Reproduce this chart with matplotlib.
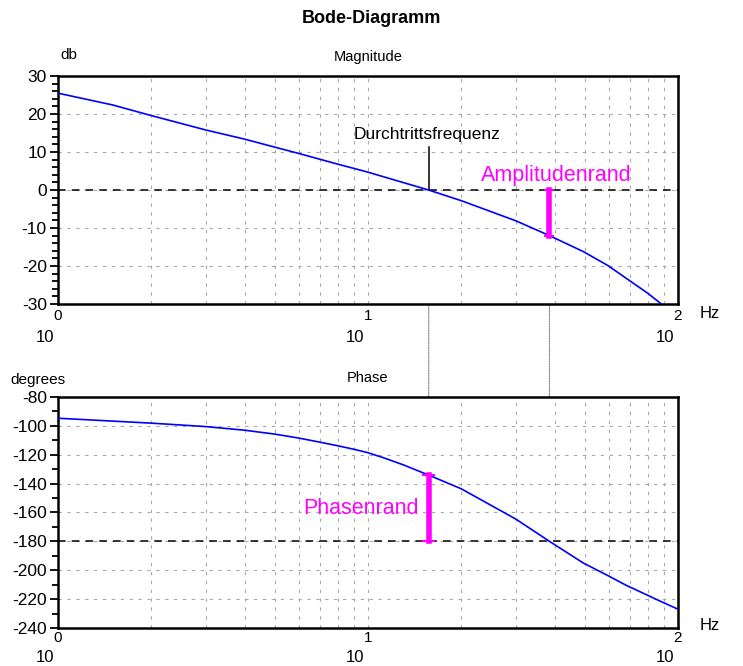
import matplotlib
matplotlib.use("Agg")
import matplotlib.pyplot as plt
from matplotlib.patches import ConnectionPatch
from matplotlib.ticker import MultipleLocator, FixedLocator, NullFormatter

plt.rcParams['font.family'] = ['Liberation Sans', 'DejaVu Sans']
plt.rcParams['axes.unicode_minus'] = False

# values
mag_freq = [1, 1.5, 2, 3, 4, 5, 6, 7, 8, 9, 10, 15.7, 20, 30, 38.5, 49.5, 59.5, 68, 80, 88.4]
mag_db = [25.5, 22.4, 19.6, 15.8, 13.4, 11.3, 9.6, 8.1, 6.8, 5.7, 4.7, 0.0, -2.8, -8.1, -12.0, -16.2,
          -19.9, -23.2, -27.2, -30.0]

phase_freq = [1, 2, 3, 4, 5, 6, 7, 8, 9, 10, 11.3, 13, 15.7, 20, 30, 38.5, 49.5, 59.5, 68, 88.4, 100]
phase_deg = [-94.7, -98.1, -100.5, -103, -105.7, -108.5, -111.3, -113.8, -116.2, -118.6, -122.3,
             -127.0, -134.1, -143.6, -164.6, -180, -195.0, -203.8, -210.4, -221.8, -227]

crossover_freq = 15.7
crossover_phase = -134.1
phase_cross_freq = 38.5
phase_cross_mag = -12.0

decade_labels = ["0", "1", "2"]
decades = [1, 10, 100]

fig = plt.figure(figsize=(7.43, 6.66), dpi=100)
ax1 = fig.add_axes([0.078, 0.5435, 0.8345, 0.3423])
ax2 = fig.add_axes([0.078, 0.0571, 0.8345, 0.3468])

fig.text(0.5, 0.972, "Bode-Diagramm", ha='center', va='center', fontsize=13, fontweight='bold')

minor_x = [m * d for d in [1, 10] for m in range(2, 10)]


def style_axis(ax, ymin, ymax, major, minor, title, exp_off, ten_off, hz_off):
    ax.set_xscale('log')
    ax.set_xlim(1, 100)
    ax.set_ylim(ymin, ymax)
    ax.xaxis.set_major_locator(FixedLocator(decades))
    ax.xaxis.set_minor_locator(FixedLocator(minor_x))
    ax.xaxis.set_major_formatter(NullFormatter())
    ax.xaxis.set_minor_formatter(NullFormatter())
    ax.tick_params(axis='x', which='both', length=0)
    ax.yaxis.set_major_locator(MultipleLocator(major))
    ax.yaxis.set_minor_locator(MultipleLocator(minor))
    ax.tick_params(axis='y', which='major', length=6, width=1.3, labelsize=12.5, pad=2)
    ax.tick_params(axis='y', which='minor', length=4, width=1.3)
    for s in ax.spines.values():
        s.set_linewidth(1.8)
    for f in minor_x + [10]:
        ax.axvline(f, color='#a8a8a8', lw=0.8, ls=(0, (3, 5)), zorder=0)
    for v in range(ymin + major, ymax, major):
        ax.axhline(v, color='#a8a8a8', lw=0.8, ls=(0, (3, 5)), zorder=0)
    ax.set_title(title, fontsize=10.5, pad=11)
    ax.annotate("Hz", (1, 0), xycoords='axes fraction', xytext=(22, hz_off),
                textcoords='offset pixels', ha='left', va='center', fontsize=12)
    for d, lab in zip(decades, decade_labels):
        ax.annotate(lab, (d, 0), xycoords=('data', 'axes fraction'), xytext=(0, exp_off),
                    textcoords='offset pixels', ha='center', va='center', fontsize=11)
        ax.annotate("10", (d, 0), xycoords=('data', 'axes fraction'), xytext=(-13, ten_off),
                    textcoords='offset pixels', ha='center', va='center', fontsize=12)


style_axis(ax1, -30, 30, 10, 2, "Magnitude", -12, -33, -9)
style_axis(ax2, -240, -80, 20, 10, "Phase", -10, -30, 2)
fig.text(60 / 743, 1 - 55 / 666, "db", ha='left', va='center', fontsize=11)
fig.text(10 / 743, 1 - 380 / 666, "degrees", ha='left', va='center', fontsize=11)

# magnitude plot
ax1.axhline(0, color='black', lw=1.1, ls=(0, (5, 4)), zorder=1)
ax1.plot(mag_freq, mag_db, color='blue', lw=1.2, zorder=3)
ax1.plot([crossover_freq, crossover_freq], [0, 11.2], color='black', lw=1.1)
ax1.text(crossover_freq * 0.99, 14.6, "Durchtrittsfrequenz", ha='center', va='center', fontsize=12.5)
ax1.plot([phase_cross_freq, phase_cross_freq], [0, phase_cross_mag], color='magenta', lw=4, zorder=4)
for v in [0, phase_cross_mag]:
    ax1.plot([phase_cross_freq * 0.97, phase_cross_freq * 1.03], [v, v], color='magenta', lw=1.5, zorder=4)
ax1.text(phase_cross_freq * 1.05, 3.8, "Amplitudenrand", color='magenta', ha='center', va='center',
         fontsize=15.5)

# phase plot
ax2.axhline(-180, color='black', lw=1.1, ls=(0, (5, 4)), zorder=1)
ax2.plot(phase_freq, phase_deg, color='blue', lw=1.2, zorder=3)
ax2.plot([crossover_freq, crossover_freq], [-180, crossover_phase], color='magenta', lw=4, zorder=4)
for v in [-180, crossover_phase]:
    ax2.plot([crossover_freq * 0.96, crossover_freq * 1.04], [v, v], color='magenta', lw=1.5, zorder=4)
ax2.text(crossover_freq * 0.93, -157, "Phasenrand", color='magenta', ha='right', va='center',
         fontsize=15.5)

# connecting lines between both plots
for f, y1, y2 in [(crossover_freq, 0, crossover_phase), (phase_cross_freq, phase_cross_mag, -180)]:
    con = ConnectionPatch(xyA=(f, y1), coordsA=ax1.transData, xyB=(f, y2), coordsB=ax2.transData,
                          color='#909090', lw=0.9, ls=(0, (1, 1)), zorder=0)
    fig.add_artist(con)

fig.savefig("out.png", dpi=100)
